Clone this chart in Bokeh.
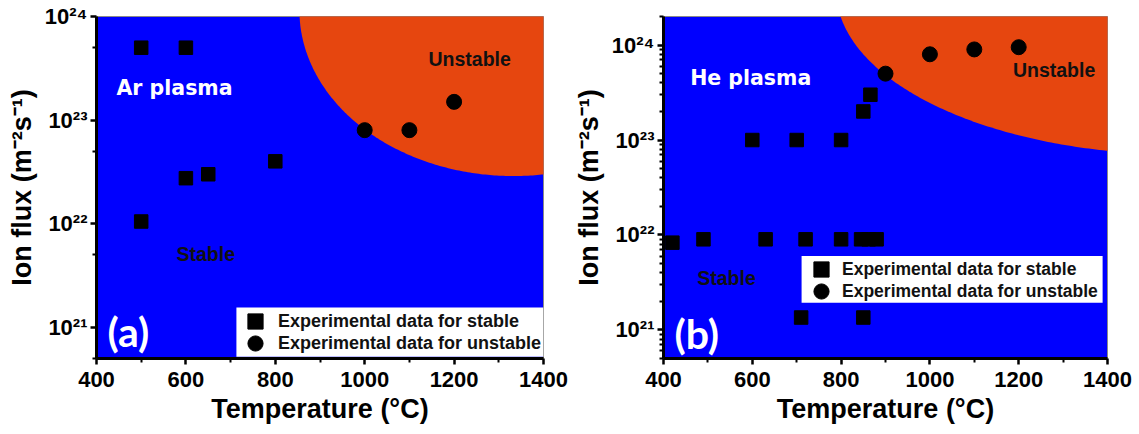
import numpy as np
from bokeh.plotting import figure
from bokeh.layouts import row
from bokeh.models import FixedTicker, Legend, LegendItem, Range1d, BoxAnnotation
from bokeh.core.properties import value
from bokeh.embed import file_html
from bokeh.resources import INLINE

# ---------------- data ----------------
# Panel (a): Ar plasma
ar_stable_T = [500, 600, 500, 600, 650, 800]
ar_stable_flux = [5e23, 5e23, 1.05e22, 2.75e22, 3e22, 4e22]
ar_unstable_T = [1000, 1100, 1200]
ar_unstable_flux = [8e22, 8e22, 1.5e23]

# Panel (b): He plasma
he_stable_T = [420, 490, 630, 720, 800, 845, 862, 880, 600, 700, 800, 850, 866, 710, 850]
he_stable_flux = [8.3e21, 9e21, 9e21, 9e21, 9e21, 9e21, 9e21, 9e21,
                  1e23, 1e23, 1e23, 2e23, 3e23, 1.35e21, 1.35e21]
he_unstable_T = [900, 1000, 1100, 1200]
he_unstable_flux = [5e23, 8e23, 9e23, 9.5e23]

# stability boundary (ellipse in T / log10(flux) space)
ar_boundary = dict(Tc=1333, Lc=24.06, a=479, b=1.6)
he_boundary = dict(Tc=1563, Lc=24.576, a=774, b=1.728)

x_ticks = [400, 600, 800, 1000, 1200, 1400]
x_minor = [500, 700, 900, 1100, 1300]
y_major = [1e21, 1e22, 1e23, 1e24]
y_labels = ["10\u00b2\u00b9", "10\u00b2\u00b2", "10\u00b2\u00b3", "10\u00b2\u2074"]
ar_y_minor = [5e20, 5e21, 5e22, 5e23]
he_y_minor = [m * 10.0 ** e for e in range(20, 25) for m in range(2, 10)]

legend_labels = ["Experimental data for stable", "Experimental data for unstable"]

BLUE = "#0000FF"
ORANGE = "#E6460F"
FONT = "Liberation Sans"


def region(Tc, Lc, a, b):
    th = np.linspace(np.pi, 2 * np.pi, 300)
    T = Tc + a * np.cos(th)
    L = Lc + b * np.sin(th)
    xs = list(T) + [Tc + a, Tc - a]
    ys = list(10.0 ** L) + [1e27, 1e27]
    return xs, ys


def one_legend(label, renderer, loc, standoff, fsize):
    lg = Legend(items=[LegendItem(label=label, renderers=[renderer])], location=loc)
    lg.background_fill_alpha = 0
    lg.border_line_color = None
    lg.padding = 0
    lg.spacing = 0
    lg.margin = 0
    lg.glyph_width = 38
    lg.glyph_height = 38
    lg.label_height = 20
    lg.label_standoff = standoff
    lg.label_text_font = FONT
    lg.label_text_font_style = "bold"
    lg.label_text_font_size = fsize
    lg.label_text_color = "#111111"
    return lg


def make_panel(ymax, y_minor, boundary, sT, sF, uT, uF, texts, leg_x, leg_y, leg_box,
               left, right, top, standoff, leg_font):
    p = figure(width=left + 447 + right, height=434,
               x_range=Range1d(400, 1400), y_range=Range1d(5e20, ymax),
               y_axis_type="log", output_backend="svg", toolbar_location=None,
               min_border_left=left, min_border_right=right,
               min_border_top=top, min_border_bottom=76)
    p.background_fill_color = BLUE
    p.border_fill_color = "white"
    p.outline_line_color = "#8a8a8a"
    p.outline_line_width = 1
    p.grid.visible = False

    xs, ys = region(**boundary)
    p.patch(xs, ys, fill_color=ORANGE, line_color=None)

    r1 = p.scatter(sT, sF, marker="square", size=13.5, color="black")
    r2 = p.scatter(uT, uF, marker="circle", size=15, color="black")

    for (tx, ty, txt, font, size, color) in texts:
        p.text(x=[tx], y=[ty], text=[txt], text_font=value(font),
               text_font_style="bold", text_font_size=size,
               text_color=color, text_baseline="middle", text_align="left")

    xa = p.xaxis[0]
    ya = p.yaxis[0]
    xa.ticker = FixedTicker(ticks=x_ticks, minor_ticks=x_minor)
    ya.ticker = FixedTicker(ticks=y_major, minor_ticks=y_minor)
    ya.major_label_overrides = {v: l for v, l in zip(y_major, y_labels)}
    xa.axis_label = "Temperature (\u00b0C)"
    ya.axis_label = "Ion flux (m\u207b\u00b2s\u207b\u00b9)"
    for ax in (xa, ya):
        ax.axis_line_width = 3
        ax.axis_line_color = "black"
        ax.major_tick_line_width = 2.5
        ax.minor_tick_line_width = 2
        ax.major_tick_out = 6
        ax.major_tick_in = 0
        ax.minor_tick_out = 4
        ax.minor_tick_in = 0
        ax.major_label_text_font = FONT
        ax.major_label_text_font_style = "bold"
        ax.major_label_text_font_size = "22px"
        ax.major_label_text_color = "black"
        ax.axis_label_text_font = FONT
        ax.axis_label_text_font_style = "bold"
        ax.axis_label_text_font_size = "27px"
        ax.axis_label_text_color = "black"
    xa.major_label_standoff = 7
    xa.axis_label_standoff = 4
    ya.major_label_standoff = 3
    ya.axis_label_standoff = 5

    bl, br, bb, bt = leg_box
    p.add_layout(BoxAnnotation(left=bl, right=br, bottom=bb, top=bt,
                               fill_color="white", fill_alpha=1,
                               line_color=None))
    p.add_layout(one_legend(legend_labels[0], r1, (leg_x, leg_y[0]), standoff, leg_font))
    p.add_layout(one_legend(legend_labels[1], r2, (leg_x, leg_y[1]), standoff, leg_font))
    return p


pa = make_panel(1e24, ar_y_minor, ar_boundary,
                ar_stable_T, ar_stable_flux, ar_unstable_T, ar_unstable_flux,
                [(444.7, 2.02e23, "Ar plasma", "DejaVu Sans", "20.5px", "white"),
                 (1142.7, 3.85e23, "Unstable", FONT, "19.5px", "#111111"),
                 (579, 5.05e21, "Stable", FONT, "19.5px", "#111111"),
                 (424.6, 9.1e20, "(a)", "Lato", "41px", "white")],
                140, (18, -4), (713, 1400, 5.2e20, 1.55e21), 96, 27, 16, 4, "18px")

pb = make_panel(2e24, he_y_minor, he_boundary,
                he_stable_T, he_stable_flux, he_unstable_T, he_unstable_flux,
                [(460, 4.47e23, "He plasma", "DejaVu Sans", "20.5px", "white"),
                 (1187, 5.42e23, "Unstable", FONT, "19.5px", "#111111"),
                 (476, 3.54e21, "Stable", FONT, "19.5px", "#111111"),
                 (424.6, 9.1e20, "(b)", "Lato", "41px", "white")],
                139, (70, 48), (711, 1389, 1.93e21, 6.0e21), 90, 32, 15, 2, "17.5px")

layout = row(pa, pb)
open("out.html", "w").write(file_html(layout, INLINE))
